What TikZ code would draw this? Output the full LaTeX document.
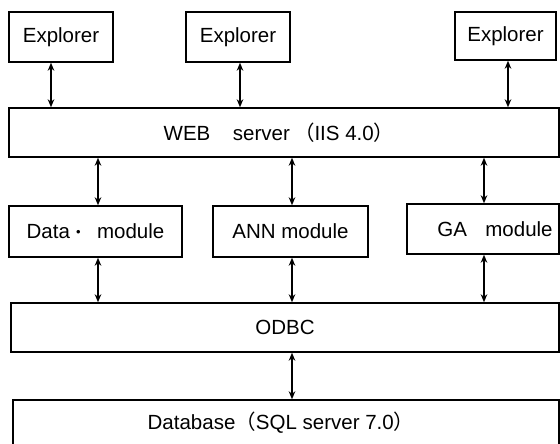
\documentclass[tikz,border=0pt]{standalone}
\usepackage{fontspec}
\setmainfont{Liberation Sans}
\newfontfamily\cjk{Noto Sans CJK SC}
\usetikzlibrary{arrows.meta}
\begin{document}
\begin{tikzpicture}[x=1pt,y=-1pt,
  box/.style={draw, line width=1.4pt, inner sep=0pt, font=\fontsize{20.5}{24}\selectfont},
  arr/.style={line width=1.4pt, {Stealth[length=8pt,width=6.5pt,inset=2.5pt]}-{Stealth[length=8pt,width=6.5pt,inset=2.5pt]}}]
\useasboundingbox (0,0) rectangle (560,444);
\clip (0,0) rectangle (560,444);
% Explorers
\node[box, minimum width=104pt, minimum height=50pt] (e1) at (61,37) {Explorer};
\node[box, minimum width=104pt, minimum height=50pt] (e2) at (238,37) {Explorer};
\node[box, minimum width=101pt, minimum height=48pt] (e3) at (505.5,36) {Explorer};
% Web server
\node[box, minimum width=550pt, minimum height=49pt] (web) at (284,132.5)
  {\hspace*{-10pt}WEB\hspace{1.1em}server\hspace{0.2em}{\cjk （}IIS 4.0{\cjk ）}};
% Modules
\node[box, minimum width=173pt, minimum height=51pt] (data) at (95.5,231.5)
  {Data\hspace{0.3em}\raisebox{0.1em}{\fontsize{13}{13}\selectfont •}\hspace{0.8em}module};
\node[box, minimum width=155pt, minimum height=51pt] (ann) at (290.5,231.5) {ANN module};
\node[box, minimum width=152pt, minimum height=50pt] (ga) at (483,229)
  {\hspace*{24pt}GA\hspace{0.9em}module};
% ODBC
\node[box, minimum width=548pt, minimum height=49pt] (odbc) at (285,327.5) {ODBC};
% Database
\node[box, minimum width=546pt, minimum height=46pt] (db) at (286,423)
  {\hspace*{-10pt}Database{\cjk （}SQL server 7.0{\cjk ）}};
% Connectors
\draw[arr] ([xshift=-10pt]e1.south) -- ([xshift=-10pt]e1.south |- web.north);
\draw[arr] ([xshift=2pt]e2.south) -- ([xshift=2pt]e2.south |- web.north);
\draw[arr] ([xshift=2.5pt]e3.south) -- ([xshift=2.5pt]e3.south |- web.north);
\draw[arr] ([xshift=2.5pt]data.north |- web.south) -- ([xshift=2.5pt]data.north);
\draw[arr] ([xshift=1.5pt]ann.north |- web.south) -- ([xshift=1.5pt]ann.north);
\draw[arr] ([xshift=1pt]ga.north |- web.south) -- ([xshift=1pt]ga.north);
\draw[arr] ([xshift=2.5pt]data.south) -- ([xshift=2.5pt]data.south |- odbc.north);
\draw[arr] ([xshift=1.5pt]ann.south) -- ([xshift=1.5pt]ann.south |- odbc.north);
\draw[arr] ([xshift=1pt]ga.south) -- ([xshift=1pt]ga.south |- odbc.north);
\draw[arr] ([xshift=7pt]odbc.south) -- ([xshift=7pt]odbc.south |- db.north);
\end{tikzpicture}
\end{document}
